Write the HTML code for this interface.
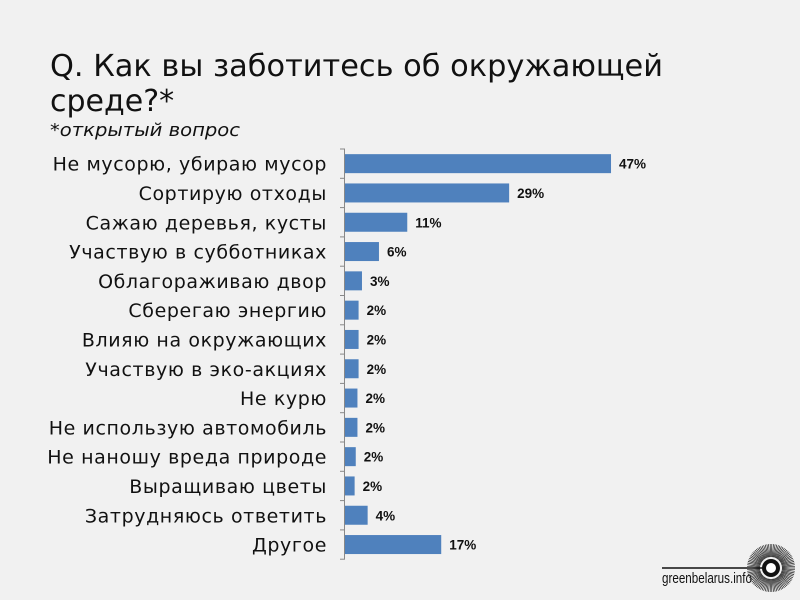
<!DOCTYPE html>
<html><head><meta charset="utf-8"><style>
body{margin:0;background:#f1f1f1;}
svg{display:block;font-family:"DejaVu Sans","Liberation Sans",sans-serif;}
</style></head><body>
<svg width="800" height="600" xmlns="http://www.w3.org/2000/svg">
<rect width="800" height="600" fill="#f1f1f1"/>
<text x="50" y="76" font-size="30" fill="#111" textLength="613" lengthAdjust="spacingAndGlyphs">Q. Как вы заботитесь об окружающей</text>
<text x="50" y="111" font-size="30" fill="#111">среде?*</text>
<text x="50" y="136" font-size="18" font-style="italic" fill="#111" textLength="190" lengthAdjust="spacingAndGlyphs">*открытый вопрос</text>
<line x1="344.5" y1="149" x2="344.5" y2="559" stroke="#888" stroke-width="1"/>
<g id="ticks" stroke="#888"></g>
<g id="bars"></g>
<g font-family="'Liberation Sans Narrow','Liberation Sans',sans-serif">
<line x1="662" y1="568" x2="765" y2="568" stroke="#111" stroke-width="1.5"/>
<text x="662" y="583" font-size="15" fill="#111" textLength="90" lengthAdjust="spacingAndGlyphs">greenbelarus.info</text>
</g>
<g id="sun"></g>
<circle cx="771" cy="568" r="9" fill="#111"/>
<circle cx="771" cy="568" r="5" fill="#fff"/>
<script>
var cats=[["Не мусорю, убираю мусор",47],["Сортирую отходы",29],["Сажаю деревья, кусты",11],["Участвую в субботниках",6],["Облагораживаю двор",3],["Сберегаю энергию",2.4],["Влияю на окружающих",2.4],["Участвую в эко-акциях",2.4],["Не курю",2.2],["Не использую автомобиль",2.2],["Не наношу вреда природе",1.9],["Выращиваю цветы",1.7],["Затрудняюсь ответить",4],["Другое",17]];
var labs=["47%","29%","11%","6%","3%","2%","2%","2%","2%","2%","2%","2%","4%","17%"];
var ns="http://www.w3.org/2000/svg",b=document.getElementById("bars"),t=document.getElementById("ticks");
function el(n,a,p,tx){var e=document.createElementNS(ns,n);for(var k in a)e.setAttribute(k,a[k]);if(tx)e.textContent=tx;p.appendChild(e);return e;}
for(var i=0;i<=14;i++){var y=149+i*29.3;el("line",{x1:340,x2:345,y1:y,y2:y},t);}
cats.forEach(function(c,i){var cy=149+i*29.3+14.65;var w=c[1]*5.66;
el("rect",{x:345,y:cy-9.5,width:w,height:19,fill:"#4f81bd"},b);
el("text",{x:327,y:cy+7,"font-size":19,"letter-spacing":0.6,"text-anchor":"end",fill:"#111"},b,c[0]);
el("text",{x:345+w+8,y:cy+5,"font-size":13.5,"font-weight":"bold",fill:"#111","font-family":"Liberation Sans,sans-serif"},b,labs[i]);});
var s=document.getElementById("sun");
for(var a=0;a<360;a+=4){var r=a*Math.PI/180;el("line",{x1:771+11*Math.cos(r),y1:568+11*Math.sin(r),x2:771+24*Math.cos(r),y2:568+24*Math.sin(r),stroke:"#222","stroke-width":0.7},s);}
</script>
</svg>
</body></html>
